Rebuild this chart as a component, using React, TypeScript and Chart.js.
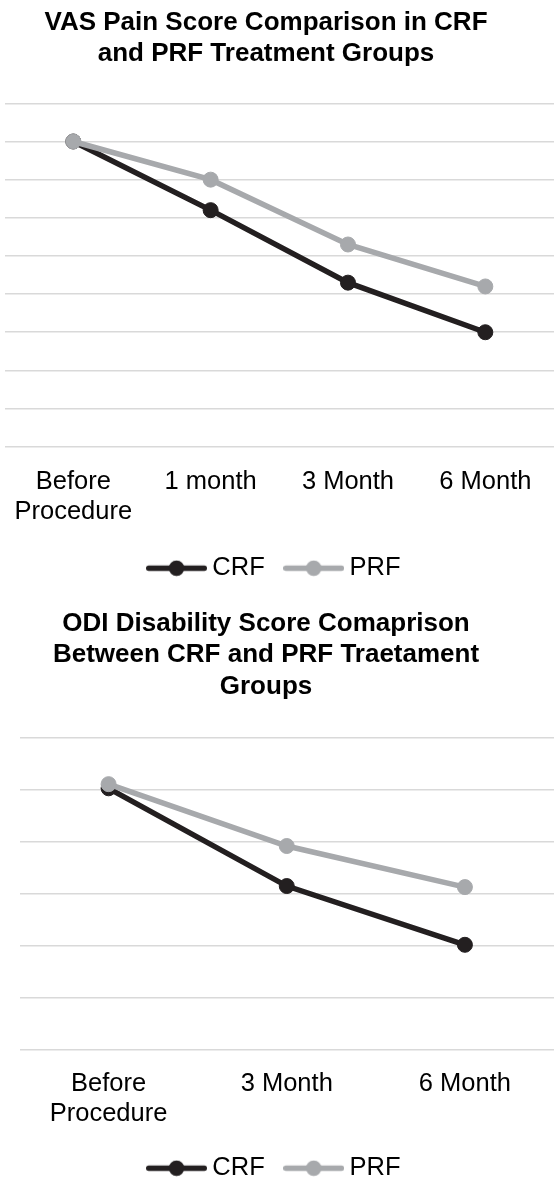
import React, { useEffect, useRef } from "react";
import { Chart, registerables } from "chart.js";

Chart.register(...registerables);

const FONT = "'Liberation Sans', Arial, Helvetica, sans-serif";
const CRF_COLOR = "#231f20";
const PRF_COLOR = "#a7a9ac";
const GRID_COLOR = "#d9d9d9";
const TEXT_COLOR = "#000000";

const seriesNames = ["CRF", "PRF"];

// Chart 1: VAS
const vasTitle = ["VAS Pain Score Comparison in CRF", "and PRF Treatment Groups"];
const vasCategories = [["Before", "Procedure"], "1 month", "3 Month", "6 Month"];
const vasCrf = [8.0, 6.2, 4.3, 3.0];
const vasPrf = [8.0, 7.0, 5.3, 4.2];
const vasAxisMin = 0;
const vasAxisMax = 9;
const vasAxisStep = 1;

// Chart 2: ODI
const odiTitle = [
  "ODI Disability Score Comaprison",
  "Between CRF and PRF Traetament",
  "Groups",
];
const odiCategories = [["Before", "Procedure"], "3 Month", "6 Month"];
const odiCrf = [50.2, 31.4, 20.1];
const odiPrf = [51.0, 39.1, 31.2];
const odiAxisMin = 0;
const odiAxisMax = 60;
const odiAxisStep = 10;

function legendSwatch(color: string) {
  const c = document.createElement("canvas");
  c.width = 61;
  c.height = 17;
  const ctx = c.getContext("2d")!;
  ctx.strokeStyle = color;
  ctx.lineWidth = 5.5;
  ctx.lineCap = "round";
  ctx.beginPath();
  ctx.moveTo(2.75, 8.5);
  ctx.lineTo(58.25, 8.5);
  ctx.stroke();
  ctx.fillStyle = color;
  ctx.beginPath();
  ctx.arc(30.5, 8.5, 7.8, 0, Math.PI * 2);
  ctx.fill();
  return c;
}

const titleShift = {
  id: "titleShift",
  afterLayout(chart: any) {
    const t = chart.titleBlock;
    if (t) {
      t.left -= 22;
    }
  },
};

type Props = {
  height: number;
  title: string[];
  categories: (string | string[])[];
  crf: number[];
  prf: number[];
  min: number;
  max: number;
  step: number;
  yAxisWidth: number;
  xAxisHeight: number;
  titlePadTop: number;
  titlePadBottom: number;
};

function LineChart(p: Props) {
  const ref = useRef<HTMLCanvasElement>(null);
  useEffect(() => {
    const swatches = [legendSwatch(CRF_COLOR), legendSwatch(PRF_COLOR)];
    const chart = new Chart(ref.current!, {
      type: "line",
      data: {
        labels: p.categories as any,
        datasets: [
          {
            label: seriesNames[0],
            data: p.crf,
            borderColor: CRF_COLOR,
            backgroundColor: CRF_COLOR,
            pointBackgroundColor: CRF_COLOR,
            pointBorderColor: CRF_COLOR,
            borderWidth: 5.5,
            pointRadius: 7.5,
            pointBorderWidth: 1,
            tension: 0,
            order: 1,
          },
          {
            label: seriesNames[1],
            data: p.prf,
            borderColor: PRF_COLOR,
            backgroundColor: PRF_COLOR,
            pointBackgroundColor: PRF_COLOR,
            pointBorderColor: PRF_COLOR,
            borderWidth: 5.5,
            pointRadius: 7.5,
            pointBorderWidth: 1,
            tension: 0,
            order: 0,
          },
        ],
      },
      options: {
        animation: false,
        responsive: true,
        maintainAspectRatio: false,
        events: [],
        layout: { padding: 0, autoPadding: false },
        scales: {
          x: {
            type: "category",
            offset: true,
            grid: { display: false, drawTicks: false },
            border: { display: false },
            ticks: {
              color: TEXT_COLOR,
              font: { family: FONT, size: 25.5, lineHeight: 1.18 },
              padding: 20,
              maxRotation: 0,
              minRotation: 0,
              autoSkip: false,
            },
            afterFit: (s: any) => {
              s.height = p.xAxisHeight;
              s.paddingLeft = 0;
              s.paddingRight = 0;
            },
          },
          y: {
            min: p.min,
            max: p.max,
            ticks: { display: false, stepSize: p.step },
            grid: { color: GRID_COLOR, lineWidth: 1.5, drawTicks: false },
            border: { display: false },
            afterFit: (s: any) => {
              s.width = p.yAxisWidth;
            },
          },
        },
        plugins: {
          title: {
            display: true,
            text: p.title,
            color: TEXT_COLOR,
            font: { family: FONT, size: 26, weight: "bold", lineHeight: 1.22 },
            padding: { top: p.titlePadTop, bottom: p.titlePadBottom },
          },
          legend: {
            display: true,
            position: "bottom",
            labels: {
              usePointStyle: true,
              pointStyleWidth: 46,
              padding: 26,
              color: TEXT_COLOR,
              font: { family: FONT, size: 25.5 },
              generateLabels: (chart: any) =>
                (Chart.defaults.plugins.legend.labels as any)
                  .generateLabels(chart)
                  .map((item: any) => ({
                    ...item,
                    pointStyle: swatches[item.datasetIndex],
                  })),
              sort: (a: any, b: any) => a.datasetIndex - b.datasetIndex,
            },
          },
          tooltip: { enabled: false },
        },
      } as any,
      plugins: [titleShift],
    });
    return () => chart.destroy();
  }, []);
  return (
    <div style={{ position: "relative", width: 554, height: p.height }}>
      <canvas ref={ref} style={{ display: "block" }} />
    </div>
  );
}

export default function App() {
  return (
    <div
      style={{
        position: "absolute",
        left: 0,
        top: 0,
        width: 554,
        height: 1183,
        overflow: "hidden",
        background: "#ffffff",
      }}
    >
      <LineChart
        height={591}
        title={vasTitle}
        categories={vasCategories}
        crf={vasCrf}
        prf={vasPrf}
        min={vasAxisMin}
        max={vasAxisMax}
        step={vasAxisStep}
        yAxisWidth={4.6}
        xAxisHeight={82.8}
        titlePadTop={6.65}
        titlePadBottom={33.25}
      />
      <LineChart
        height={600}
        title={odiTitle}
        categories={odiCategories}
        crf={odiCrf}
        prf={odiPrf}
        min={odiAxisMin}
        max={odiAxisMax}
        step={odiAxisStep}
        yAxisWidth={19.5}
        xAxisHeight={80.2}
        titlePadTop={16.65}
        titlePadBottom={34.55}
      />
    </div>
  );
}
